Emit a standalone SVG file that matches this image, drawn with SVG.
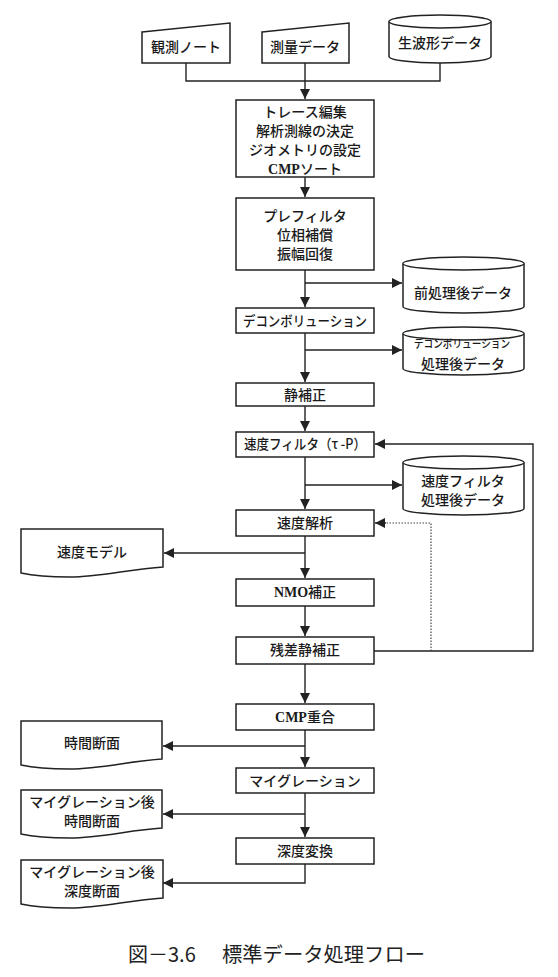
<svg xmlns="http://www.w3.org/2000/svg" width="558" height="977" viewBox="0 0 558 977">
<style>
.n{fill:#fff;stroke:#222;stroke-width:1.5}
.t{font-family:"Noto Sans CJK JP","Liberation Sans",sans-serif;font-size:14px;font-weight:500;fill:#1a1a1a;text-anchor:middle}
.s{font-family:"Liberation Serif","Noto Sans CJK JP",serif;font-size:14px;font-weight:700;fill:#1a1a1a;text-anchor:middle}
.j{font-family:"Noto Sans CJK JP",sans-serif;font-weight:500}
.c{fill:none;stroke:#222;stroke-width:1.4}
.d{fill:none;stroke:#444;stroke-width:1.2;stroke-dasharray:1.5 1.5}
.cap{font-family:"Noto Sans CJK JP","Liberation Sans",sans-serif;font-size:20px;fill:#222}
</style>
<defs>
<marker id="a" markerUnits="userSpaceOnUse" markerWidth="11" markerHeight="11" refX="10" refY="5" orient="auto">
<path d="M0,0 L10,5 L0,10 Z" fill="#222"/>
</marker>
</defs>
<rect width="558" height="977" fill="#fff"/>

<g id="connectors">
<path class="c" d="M186,63 V81 H440 V63"/>
<path class="c" d="M305,63 V99" marker-end="url(#a)"/>
<path class="c" d="M305,177 V197" marker-end="url(#a)"/>
<path class="c" d="M305,270 V307" marker-end="url(#a)"/>
<path class="c" d="M305,283 H402" marker-end="url(#a)"/>
<path class="c" d="M305,333 V382" marker-end="url(#a)"/>
<path class="c" d="M305,350 H402" marker-end="url(#a)"/>
<path class="c" d="M305,406 V431" marker-end="url(#a)"/>
<path class="c" d="M305,457 V509" marker-end="url(#a)"/>
<path class="c" d="M305,485 H402" marker-end="url(#a)"/>
<path class="c" d="M305,536 V578" marker-end="url(#a)"/>
<path class="c" d="M305,553 H164" marker-end="url(#a)"/>
<path class="c" d="M305,606 V636" marker-end="url(#a)"/>
<path class="c" d="M374,651 H533 V444 H375" marker-end="url(#a)"/>
<path class="d" d="M431,651 V523 H376"/>
<path class="c" d="M386,523 H375" marker-end="url(#a)" stroke-width="0.1"/>
<path class="c" d="M305,664 V703" marker-end="url(#a)"/>
<path class="c" d="M305,730 V767" marker-end="url(#a)"/>
<path class="c" d="M305,746 H163" marker-end="url(#a)"/>
<path class="c" d="M305,793 V837" marker-end="url(#a)"/>
<path class="c" d="M305,814 H163" marker-end="url(#a)"/>
<path class="c" d="M305,864 V883 H163" marker-end="url(#a)"/>
</g>

<g id="kansoku-note">
<path class="n" d="M142,32 L230,23 V63 H142 Z"/>
<text class="t" x="186" y="52">観測ノート</text>
</g>
<g id="sokuryo-data">
<path class="n" d="M262,32 L349,23 V63 H262 Z"/>
<text class="t" x="305" y="52">測量データ</text>
</g>
<g id="namahakei-data">
<path class="n" d="M389,21.5 A51,6.5 0 0 1 491,21.5 V56.5 A51,6.5 0 0 1 389,56.5 Z"/>
<path class="n" d="M389,21.5 A51,6.5 0 0 0 491,21.5"/>
<text class="t" x="440" y="48">生波形データ</text>
</g>
<g id="trace-edit">
<rect class="n" x="236" y="100" width="138" height="77"/>
<text class="t" x="305" y="117">トレース編集</text>
<text class="t" x="305" y="136">解析測線の決定</text>
<text class="t" x="305" y="155">ジオメトリの設定</text>
<text class="s" x="305" y="174">CMP<tspan class="j">ソート</tspan></text>
</g>
<g id="prefilter">
<rect class="n" x="236" y="198" width="138" height="72"/>
<text class="t" x="305" y="221">プレフィルタ</text>
<text class="t" x="305" y="240">位相補償</text>
<text class="t" x="305" y="259">振幅回復</text>
</g>
<g id="preproc-data">
<path class="n" d="M403,263.5 A60.5,6.5 0 0 1 524,263.5 V306.5 A60.5,6.5 0 0 1 403,306.5 Z"/>
<path class="n" d="M403,263.5 A60.5,6.5 0 0 0 524,263.5"/>
<text class="t" x="463" y="298">前処理後データ</text>
</g>
<g id="deconvolution">
<rect class="n" x="236" y="308" width="138" height="25"/>
<text class="t" x="305" y="326" textLength="124" lengthAdjust="spacingAndGlyphs">デコンボリューション</text>
</g>
<g id="decon-data">
<path class="n" d="M403,333.5 A60.5,6.5 0 0 1 524,333.5 V368.5 A60.5,6.5 0 0 1 403,368.5 Z"/>
<path class="n" d="M403,333.5 A60.5,6.5 0 0 0 524,333.5"/>
<text class="t" x="462" y="348" style="font-size:11px" textLength="96" lengthAdjust="spacingAndGlyphs">デコンボリューション</text>
<text class="t" x="463" y="369">処理後データ</text>
</g>
<g id="static-correction">
<rect class="n" x="236" y="383" width="138" height="23"/>
<text class="t" x="305" y="400">静補正</text>
</g>
<g id="velocity-filter">
<rect class="n" x="236" y="432" width="138" height="25"/>
<text class="t" x="305" y="449" textLength="122" lengthAdjust="spacingAndGlyphs">速度フィルタ（τ -P）</text>
</g>
<g id="vfilter-data">
<path class="n" d="M403,462.5 A60.5,6.5 0 0 1 524,462.5 V508.5 A60.5,6.5 0 0 1 403,508.5 Z"/>
<path class="n" d="M403,462.5 A60.5,6.5 0 0 0 524,462.5"/>
<text class="t" x="463" y="486">速度フィルタ</text>
<text class="t" x="463" y="505">処理後データ</text>
</g>
<g id="velocity-analysis">
<rect class="n" x="236" y="510" width="138" height="26"/>
<text class="t" x="305" y="528">速度解析</text>
</g>
<g id="velocity-model">
<path class="n" d="M21,529 H163 V567 C130,569 100,577 70,577 C45,577 30,575 21,573 Z"/>
<text class="t" x="92" y="557">速度モデル</text>
</g>
<g id="nmo-correction">
<rect class="n" x="236" y="579" width="138" height="27"/>
<text class="s" x="305" y="597">NMO<tspan class="j">補正</tspan></text>
</g>
<g id="residual-static">
<rect class="n" x="236" y="637" width="138" height="27"/>
<text class="t" x="305" y="655">残差静補正</text>
</g>
<g id="cmp-stack">
<rect class="n" x="236" y="704" width="138" height="26"/>
<text class="s" x="305" y="722">CMP<tspan class="j">重合</tspan></text>
</g>
<g id="time-section">
<path class="n" d="M21,721 H162 V759 C130,761 100,769 70,769 C45,769 30,767 21,765 Z"/>
<text class="t" x="92" y="748">時間断面</text>
</g>
<g id="migration">
<rect class="n" x="236" y="768" width="138" height="25"/>
<text class="t" x="305" y="786">マイグレーション</text>
</g>
<g id="migrated-time-section">
<path class="n" d="M21,790 H162 V828 C130,830 100,838 70,838 C45,838 30,836 21,834 Z"/>
<text class="t" x="92" y="807">マイグレーション後</text>
<text class="t" x="92" y="826">時間断面</text>
</g>
<g id="depth-conversion">
<rect class="n" x="236" y="838" width="138" height="26"/>
<text class="t" x="305" y="856">深度変換</text>
</g>
<g id="migrated-depth-section">
<path class="n" d="M21,860 H163 V898 C130,900 100,908 70,908 C45,908 30,906 21,904 Z"/>
<text class="t" x="92" y="877">マイグレーション後</text>
<text class="t" x="92" y="896">深度断面</text>
</g>

<g id="caption">
<text class="cap" x="128" y="962">図－3.6</text>
<text class="cap" x="222" y="962" textLength="203" lengthAdjust="spacingAndGlyphs">標準データ処理フロー</text>
</g>
</svg>
